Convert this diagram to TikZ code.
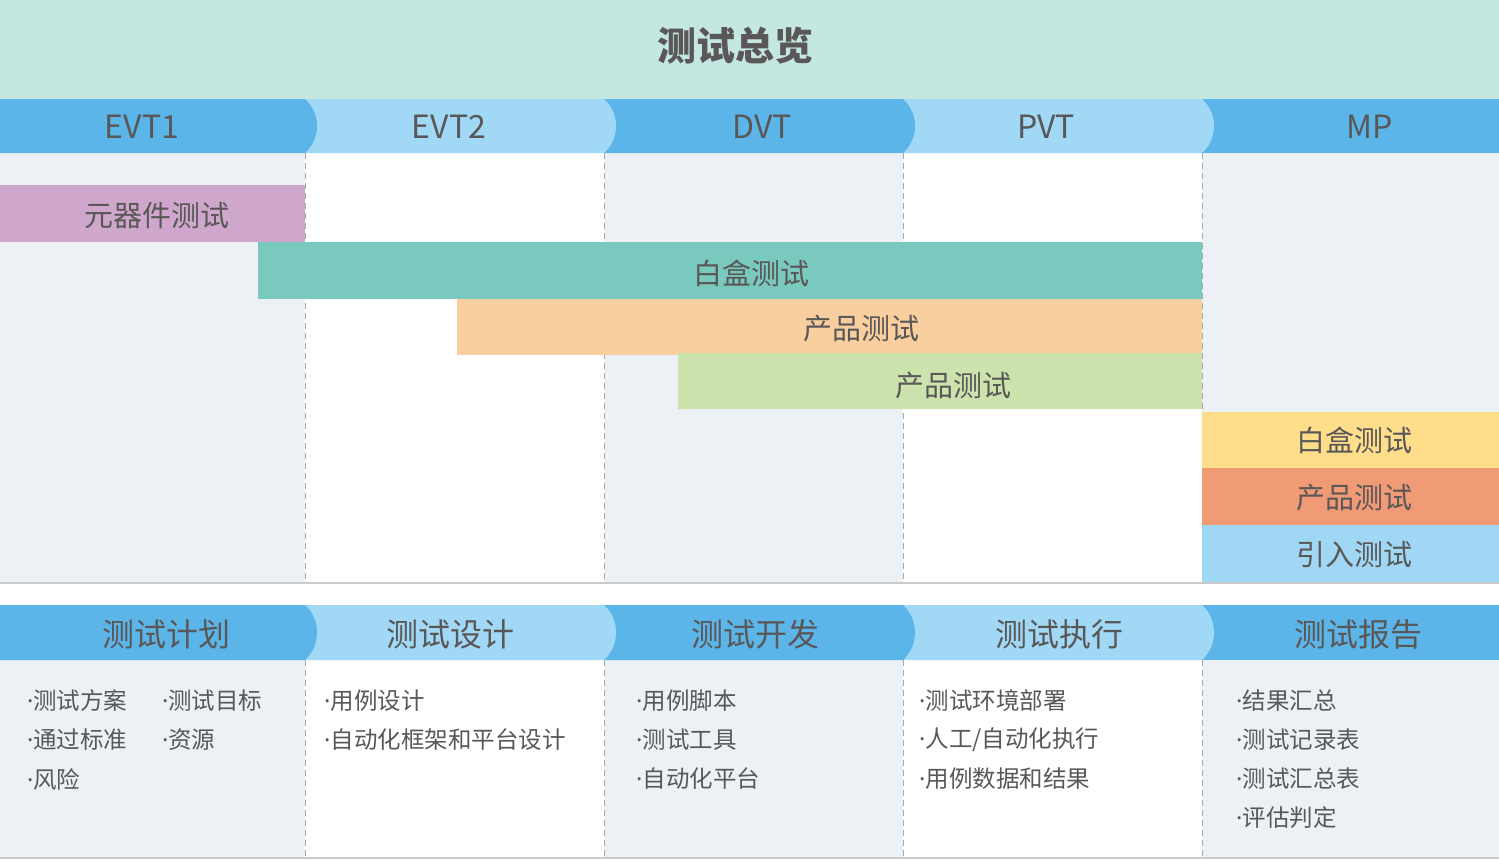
\documentclass[tikz,border=0pt]{standalone}
\usepackage{fontspec}
\setmainfont{Noto Sans CJK SC}
\newfontfamily\dotfont{Noto Sans}
\usetikzlibrary{positioning,calc}

\definecolor{titlebg}{HTML}{C4E7E2}
\definecolor{hdark}{HTML}{5CB5E8}
\definecolor{hlight}{HTML}{A0D8F5}
\definecolor{colbg}{HTML}{ECF1F6}
\definecolor{txtgray}{HTML}{595757}
\definecolor{sepgray}{HTML}{A8A8A8}
\definecolor{rulegray}{HTML}{CACACA}
\definecolor{barpink}{HTML}{CFA6CC}
\definecolor{barteal}{HTML}{7AC9BF}
\definecolor{barpeach}{HTML}{F9CF9F}
\definecolor{bargreen}{HTML}{CDE3AD}
\definecolor{baryellow}{HTML}{FEDD8B}
\definecolor{barsalmon}{HTML}{F19B76}
\definecolor{barblue}{HTML}{A0D7F4}

% header cell with rounded right side: #1 colour, #2 left, #3 right, #4 top, #5 bottom
\newcommand{\phasecell}[5]{%
  \fill[#1] (#2,#4) -- (#3,#4) .. controls ($(#3,#4)+(16,14.5)$) and ($(#3,#5)+(16,-14.5)$) .. (#3,#5) -- (#2,#5) -- cycle;}
% narrow bullet
\newcommand{\bul}{{\dotfont ·}}

\begin{document}
\begin{tikzpicture}[x=1pt, y=-1pt,
title/.style={font=\fontsize{39}{43}\selectfont\bfseries, text=txtgray},
phase/.style={font=\fontsize{32}{36}\selectfont, text=txtgray},
bartxt/.style={font=\fontsize{29}{33}\selectfont, text=txtgray},
item/.style={font=\fontsize{23.5}{27}\selectfont, text=txtgray, anchor=west, inner sep=0pt},
sep/.style={draw=sepgray, line width=0.8pt, dash pattern=on 6pt off 4pt},
rule/.style={draw=rulegray, line width=2pt}
]
\useasboundingbox (0,0) rectangle (1499,860);
\fill[white] (0,0) rectangle (1499,860);

% title band
\fill[titlebg] (0,0) rectangle (1499,99);
\node[title] (overview) at (735,46) {测试总览};

% column backgrounds
\foreach \xa/\xb in {0/305, 604/903, 1202/1499} {
  \fill[colbg] (\xa,153) rectangle (\xb,583);
  \fill[colbg] (\xa,660) rectangle (\xb,857);
}
\foreach \x in {305,604,903,1202} {
  \draw[sep] (\x,153) -- (\x,583);
  \draw[sep] (\x,660) -- (\x,857);
}
\draw[rule] (0,583) -- (1499,583);
\draw[rule] (0,858) -- (1499,858);

% phase headers, right to left so each bulge sits on top
\fill[hdark] (1202,99) rectangle (1499,153);
\phasecell{hlight}{903}{1202}{99}{153}
\phasecell{hdark}{604}{903}{99}{153}
\phasecell{hlight}{305}{604}{99}{153}
\phasecell{hdark}{0}{305}{99}{153}
\node[phase] (evt1) at (142,127) {EVT1};
\node[phase] (evt2) at (449,127) {EVT2};
\node[phase] (dvt) at (762,127) {DVT};
\node[phase] (pvt) at (1046,127) {PVT};
\node[phase] (mp) at (1370,127) {MP};

% test bars
\fill[barpink] (0,185) rectangle (305,242);
\fill[barteal] (258,242) rectangle (1202,299);
\fill[barpeach] (457,299) rectangle (1202,355);
\fill[bargreen] (678,353) rectangle (1202,409);
\fill[baryellow] (1202,412) rectangle (1499,468);
\fill[barsalmon] (1202,468) rectangle (1499,525);
\fill[barblue] (1202,525) rectangle (1499,582);
\node[bartxt] (comp) at (157,216) {元器件测试};
\node[bartxt] (wbox) at (751,273) {白盒测试};
\node[bartxt] (prod) at (861,329) {产品测试};
\node[bartxt] (prod2) at (953,386) {产品测试};
\node[bartxt] (mpwbox) at (1354,440) {白盒测试};
\node[bartxt] (mpprod) at (1354,498) {产品测试};
\node[bartxt] (mpintro) at (1354,555) {引入测试};

% process headers
\fill[hdark] (1202,605) rectangle (1499,660);
\phasecell{hlight}{903}{1202}{605}{660}
\phasecell{hdark}{604}{903}{605}{660}
\phasecell{hlight}{305}{604}{605}{660}
\phasecell{hdark}{0}{305}{605}{660}
\node[phase] (plan) at (166,634) {测试计划};
\node[phase] (design) at (450,634) {测试设计};
\node[phase] (dev) at (755,634) {测试开发};
\node[phase] (exec) at (1059,634) {测试执行};
\node[phase] (report) at (1358,634) {测试报告};

% items
\node[item] (p1) at (27,701) {\bul 测试方案};
\node[item] (p2) at (162,701) {\bul 测试目标};
\node[item] (p3) at (27,740) {\bul 通过标准};
\node[item] (p4) at (162,740) {\bul 资源};
\node[item] (p5) at (27,779) {\bul 风险};
\node[item] (d1) at (324,701) {\bul 用例设计};
\node[item] (d2) at (324,740) {\bul 自动化框架和平台设计};
\node[item] (v1) at (636,701) {\bul 用例脚本};
\node[item] (v2) at (636,740) {\bul 测试工具};
\node[item] (v3) at (636,779) {\bul 自动化平台};
\node[item] (e1) at (919,701) {\bul 测试环境部署};
\node[item] (e2) at (919,740) {\bul 人工/自动化执行};
\node[item] (e3) at (919,779) {\bul 用例数据和结果};
\node[item] (r1) at (1236,701) {\bul 结果汇总};
\node[item] (r2) at (1236,740) {\bul 测试记录表};
\node[item] (r3) at (1236,779) {\bul 测试汇总表};
\node[item] (r4) at (1236,818) {\bul 评估判定};
\end{tikzpicture}
\end{document}
